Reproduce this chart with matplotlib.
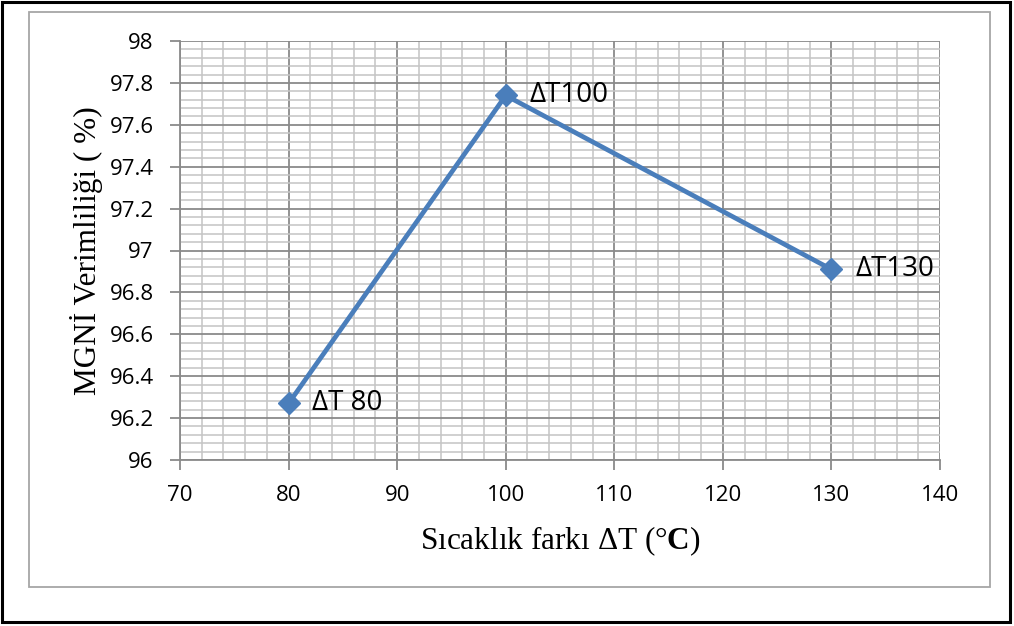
import matplotlib
matplotlib.use("Agg")
import matplotlib.pyplot as plt
from matplotlib.patches import Rectangle
from matplotlib.ticker import MultipleLocator

# Efficiency vs. temperature difference
delta_t = [80, 100, 130]
efficiency = [96.27, 97.74, 96.91]
point_labels = ["ΔT 80", "ΔT100", "ΔT130"]
x_ticks = [70, 80, 90, 100, 110, 120, 130, 140]
y_ticks = [96, 96.2, 96.4, 96.6, 96.8, 97, 97.2, 97.4, 97.6, 97.8, 98]

plt.rcParams["mathtext.fontset"] = "custom"
plt.rcParams["mathtext.rm"] = "Liberation Serif"
plt.rcParams["mathtext.bf"] = "Liberation Serif:bold"

W, H = 1014, 626
fig = plt.figure(figsize=(W / 100, H / 100), dpi=100)

# frames around the figure
fig.patches.append(Rectangle((2 / W, 4 / H), 1008 / W, 620 / H, transform=fig.transFigure,
                             fill=False, edgecolor="black", linewidth=2.2))
fig.patches.append(Rectangle((29 / W, (H - 587) / H), 961 / W, 575 / H, transform=fig.transFigure,
                             fill=False, edgecolor="#a6a6a6", linewidth=1.3))

ax = fig.add_axes([180 / W, (H - 460) / H, 760 / W, 419 / H])
ax.set_xlim(70, 140)
ax.set_ylim(96, 98)

ax.xaxis.set_minor_locator(MultipleLocator(2))
ax.yaxis.set_minor_locator(MultipleLocator(0.04))

ax.grid(which="minor", color="#c4c4c4", linewidth=1.1, zorder=0)
ax.grid(which="major", color="#8a8a8a", linewidth=1.3, zorder=0)
ax.set_axisbelow(True)

for side in ["top", "right"]:
    ax.spines[side].set_visible(False)
for side in ["left", "bottom"]:
    ax.spines[side].set_color("#8a8a8a")
    ax.spines[side].set_linewidth(1.3)

ax.set_yticks(y_ticks)
ax.set_yticklabels([f"{v:g}" for v in y_ticks], fontfamily="Open Sans")
ax.set_xticks(x_ticks)
ax.set_xticklabels([str(v) for v in x_ticks], fontfamily="Open Sans")
ax.tick_params(which="major", direction="out", length=7, width=1.3, color="#8a8a8a",
               labelsize=16)
ax.tick_params(axis="y", pad=12)
ax.tick_params(axis="x", pad=11)
ax.tick_params(which="minor", length=0)

ax.plot(delta_t, efficiency, color="#4a7ebb", linewidth=3.4, marker="D", markersize=11,
        markerfacecolor="#4a7ebb", markeredgecolor="#4a7ebb", zorder=3, clip_on=False)

for x, y, lab in zip(delta_t, efficiency, point_labels):
    ax.text(x + 2.2, y, lab, fontsize=20, fontfamily="Open Sans",
            va="center", ha="left", zorder=4)

ax.set_xlabel("Sıcaklık farkı ΔT (°$\\mathbf{C}$)", fontfamily="Liberation Serif",
              fontsize=22.5, labelpad=13)
ax.set_ylabel("MGNİ Verimliliği ( %)", fontfamily="Liberation Serif", fontsize=22.5,
              labelpad=5)

fig.savefig("out.png", dpi=100)
